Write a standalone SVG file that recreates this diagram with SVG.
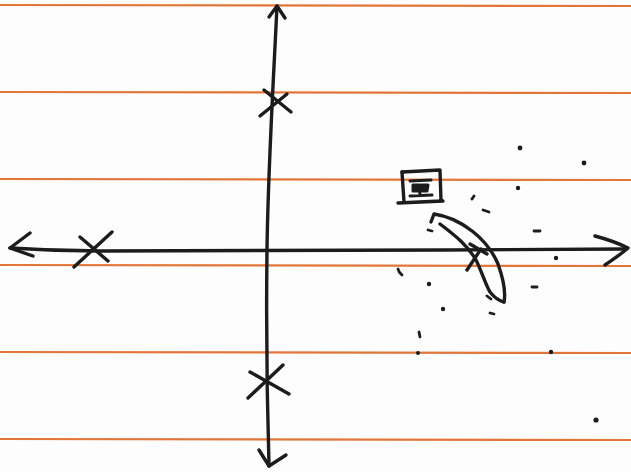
<svg xmlns="http://www.w3.org/2000/svg" width="631" height="472" viewBox="0 0 631 472">
<style>
.rule{stroke:#e2763a;stroke-width:2.2;fill:none}
.ink{stroke:#1c1c1c;stroke-width:3.4;fill:none;stroke-linecap:round;stroke-linejoin:round}
.fleck{stroke:#1c1c1c;stroke-width:2.8;fill:none;stroke-linecap:round}
.dot{fill:#1c1c1c}
</style>
<rect width="631" height="472" fill="#fdfdfd"/>
<g id="paper-lines">
<line class="rule" x1="0" y1="5" x2="631" y2="6"/>
<line class="rule" x1="0" y1="92" x2="631" y2="93"/>
<line class="rule" x1="0" y1="179" x2="631" y2="180"/>
<line class="rule" x1="0" y1="265" x2="631" y2="266"/>
<line class="rule" x1="0" y1="352" x2="631" y2="353"/>
<line class="rule" x1="0" y1="439" x2="631" y2="440"/>
</g>
<g id="connectors">
<path id="imag-axis" class="ink" d="M277,6 C273,90 268,170 267,250 C266,330 267,400 269,466"/>
<path class="ink" d="M269,17 L277,6 L285,18"/>
<path class="ink" d="M259,450 L269,466 L286,455"/>
<path id="real-axis" class="ink" d="M10,248 C40,250 70,251 100,251 C250,251 450,250 625,249"/>
<path class="ink" d="M30,233 L10,248 L33,256"/>
<path class="ink" d="M595,236 C610,240 620,244 628,248 C620,255 612,260 605,265"/>
</g>
<g id="pole-top">
<path class="ink" d="M260,116 L287,94"/>
<path class="ink" d="M264,90 L291,112"/>
</g>
<g id="pole-left">
<path class="ink" d="M74,267 L112,232"/>
<path class="ink" d="M80,237 L108,261"/>
</g>
<g id="pole-bottom">
<path class="ink" d="M248,398 L283,365"/>
<path class="ink" d="M250,372 L289,394"/>
</g>
<g id="pole-right">
<path class="ink" d="M467,270 L481,249"/>
<path class="ink" d="M470,244 L487,254"/>
</g>
<g id="box">
<path class="ink" d="M402,172 L440,170 L441,201 L398,203 L443,201"/>
<path class="ink" d="M402,172 L404,202"/>
<path class="ink" d="M410,181 L431,180 M413,185 L428,185 L427,191 L413,191 Z M419,185 L420,195 M410,196 L432,195 M415,188 L426,188" style="stroke-width:3"/>
</g>
<g id="crescent">
<path class="ink" d="M431,222 L434,214 C462,218 488,240 498,264 C503,278 506,292 504,302"/>
<path class="ink" d="M440,224 C456,236 468,246 476,260 C482,272 486,286 490,292 C494,297 499,301 504,302"/>
<path class="fleck" d="M487,296 L491,299"/>
</g>
<g id="samples">
<circle class="dot" cx="520" cy="148" r="2.4"/>
<circle class="dot" cx="584" cy="163" r="2.4"/>
<circle class="dot" cx="518" cy="188" r="2.2"/>
<path class="fleck" d="M472,199 L474,196"/>
<path class="fleck" d="M483,210 L489,212"/>
<path class="fleck" d="M428,230 L432,231"/>
<path class="fleck" d="M534,231 L540,231"/>
<circle class="dot" cx="556" cy="258" r="2.2"/>
<path class="fleck" d="M398,269 C399,273 401,274 402,275"/>
<circle class="dot" cx="429" cy="284" r="2.2"/>
<path class="fleck" d="M532,287 L537,287"/>
<circle class="dot" cx="443" cy="309" r="2.2"/>
<path class="fleck" d="M490,313 L494,314"/>
<path class="fleck" d="M419,332 L420,337"/>
<circle class="dot" cx="418" cy="353" r="2"/>
<circle class="dot" cx="551" cy="352" r="2.2"/>
<circle class="dot" cx="596" cy="420" r="2.6"/>
</g>
</svg>
